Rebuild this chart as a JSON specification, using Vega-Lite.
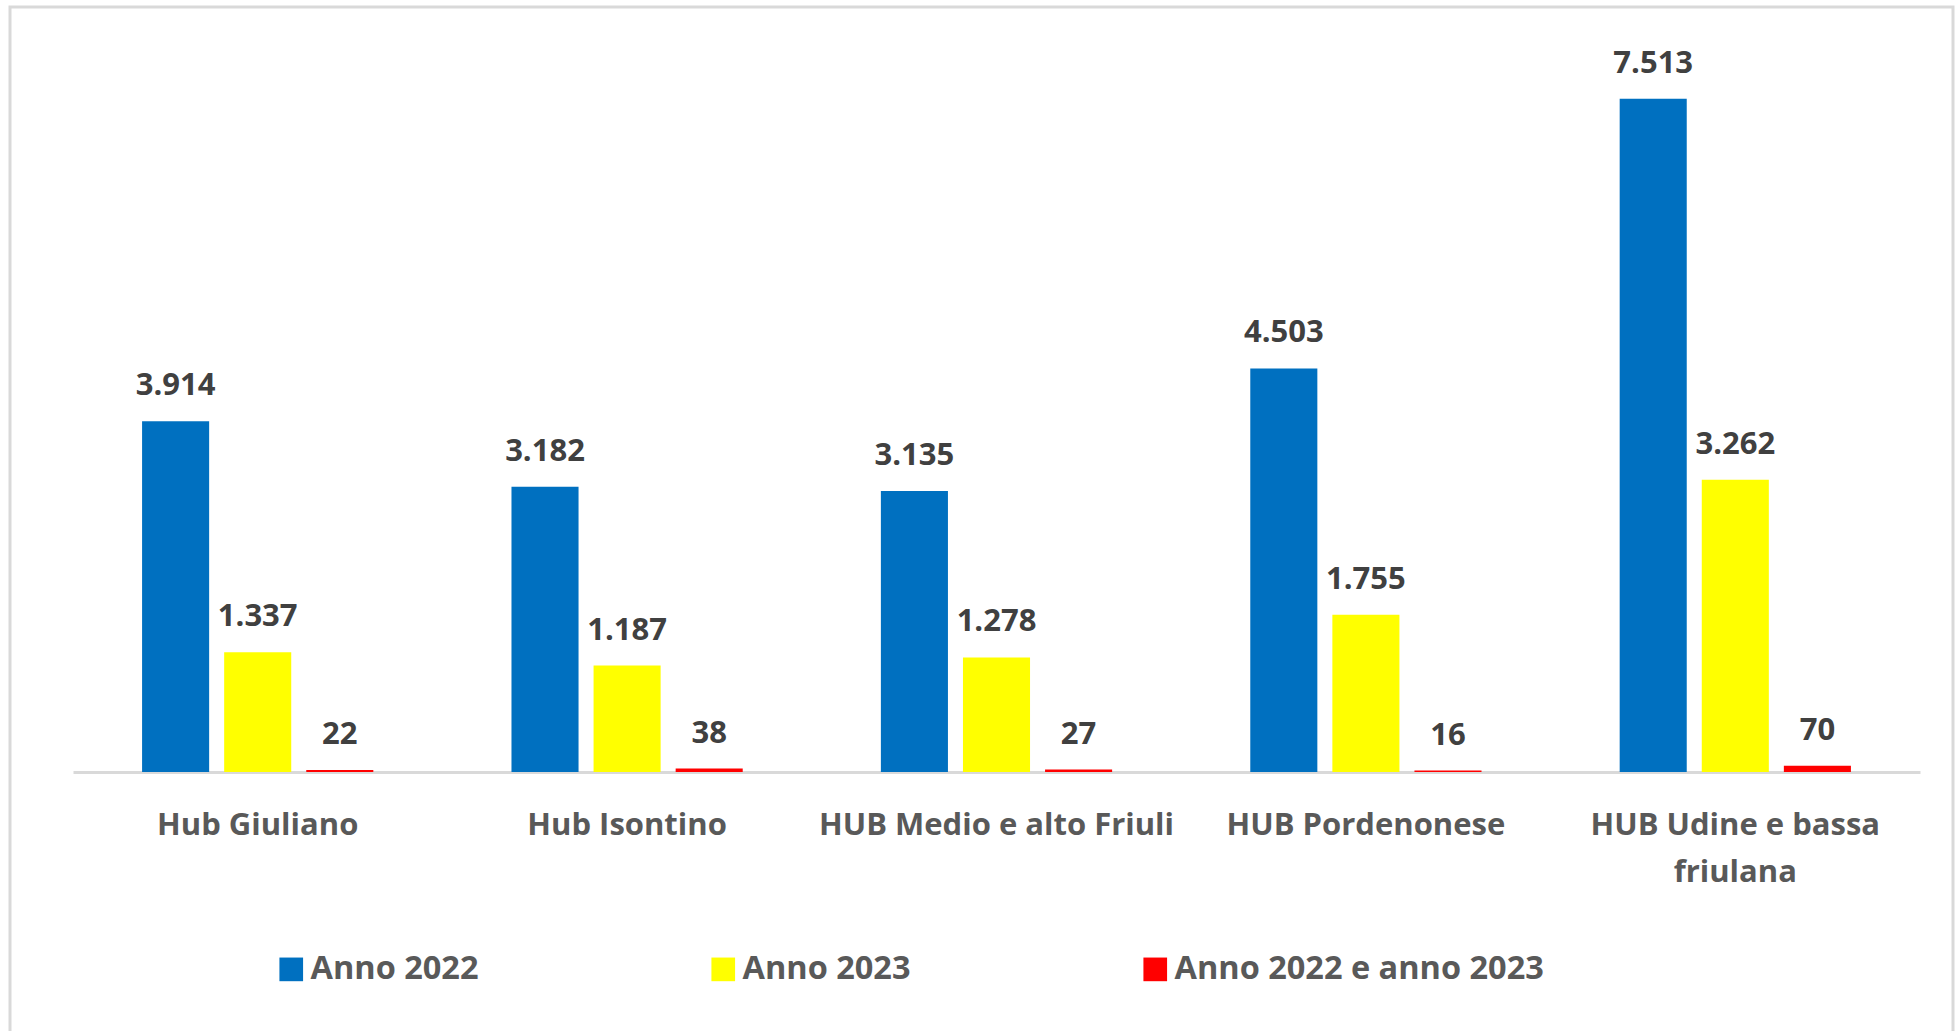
{
  "$schema": "https://vega.github.io/schema/vega-lite/v6.json",
  "width": 1943,
  "height": 1030,
  "autosize": {"type": "none"},
  "padding": {"left": 10, "top": 7, "right": 2, "bottom": 0},
  "config": {
    "locale": {"number": {"decimal": ",", "thousands": ".", "grouping": [3], "currency": ["€", ""]}},
    "view": {"stroke": "#d9d9d9", "strokeWidth": 3},
    "font": "Open Sans"
  },
  "data": {
    "values": [
      {"hub": "Hub Giuliano", "serie": "Anno 2022", "valore": 3914},
      {"hub": "Hub Giuliano", "serie": "Anno 2023", "valore": 1337},
      {"hub": "Hub Giuliano", "serie": "Anno 2022 e anno 2023", "valore": 22},
      {"hub": "Hub Isontino", "serie": "Anno 2022", "valore": 3182},
      {"hub": "Hub Isontino", "serie": "Anno 2023", "valore": 1187},
      {"hub": "Hub Isontino", "serie": "Anno 2022 e anno 2023", "valore": 38},
      {"hub": "HUB Medio e alto Friuli", "serie": "Anno 2022", "valore": 3135},
      {"hub": "HUB Medio e alto Friuli", "serie": "Anno 2023", "valore": 1278},
      {"hub": "HUB Medio e alto Friuli", "serie": "Anno 2022 e anno 2023", "valore": 27},
      {"hub": "HUB Pordenonese", "serie": "Anno 2022", "valore": 4503},
      {"hub": "HUB Pordenonese", "serie": "Anno 2023", "valore": 1755},
      {"hub": "HUB Pordenonese", "serie": "Anno 2022 e anno 2023", "valore": 16},
      {"hub": "HUB Udine e bassa friulana", "serie": "Anno 2022", "valore": 7513},
      {"hub": "HUB Udine e bassa friulana", "serie": "Anno 2023", "valore": 3262},
      {"hub": "HUB Udine e bassa friulana", "serie": "Anno 2022 e anno 2023", "valore": 70}
    ]
  },
  "encoding": {
    "x": {
      "field": "hub",
      "type": "nominal",
      "sort": ["Hub Giuliano", "Hub Isontino", "HUB Medio e alto Friuli", "HUB Pordenonese", "HUB Udine e bassa friulana"],
      "scale": {"range": [63, 1910], "paddingInner": 0.374, "paddingOuter": 0.187},
      "axis": {
        "orient": "bottom",
        "offset": -265,
        "title": null,
        "ticks": false,
        "domainColor": "#d9d9d9",
        "domainWidth": 3,
        "labelFont": "Open Sans",
        "labelFontSize": 31,
        "labelFontWeight": "bold",
        "labelColor": "#595959",
        "labelPadding": 38,
        "labelBaseline": "top",
        "labelLineHeight": 47,
        "labelAngle": 0,
        "labelLimit": 0,
        "labelOverlap": false,
        "labelBound": false,
        "labelExpr": "datum.label == 'HUB Udine e bassa friulana' ? ['HUB Udine e bassa', 'friulana'] : datum.label"
      }
    },
    "xOffset": {
      "field": "serie",
      "type": "nominal",
      "sort": ["Anno 2022", "Anno 2023", "Anno 2022 e anno 2023"],
      "scale": {"paddingInner": 0.183, "paddingOuter": 0}
    },
    "y": {
      "field": "valore",
      "type": "quantitative",
      "scale": {"domain": [0, 8000], "range": [765, 48], "nice": false},
      "axis": null
    }
  },
  "layer": [
    {
      "mark": {"type": "bar"},
      "encoding": {
        "color": {
          "field": "serie",
          "type": "nominal",
          "sort": ["Anno 2022", "Anno 2023", "Anno 2022 e anno 2023"],
          "scale": {"domain": ["Anno 2022", "Anno 2023", "Anno 2022 e anno 2023"], "range": ["#0070C0", "#FFFF00", "#FF0000"]},
          "legend": {
            "orient": "none",
            "legendX": 265,
            "legendY": 946,
            "direction": "horizontal",
            "columns": 3,
            "title": null,
            "symbolType": "square",
            "symbolSize": 560,
            "symbolStrokeWidth": 0,
            "symbolOpacity": 1,
            "labelFont": "Open Sans",
            "labelFontSize": 32.5,
            "labelColor": "#595959",
            "labelFontWeight": "bold",
            "labelOffset": 3,
            "columnPadding": 228,
            "labelLimit": 0
          }
        }
      }
    },
    {
      "mark": {"type": "text", "dy": -26, "baseline": "alphabetic", "fontSize": 31, "fontWeight": "bold", "color": "#404040", "font": "Open Sans"},
      "encoding": {
        "text": {"field": "valore", "type": "quantitative", "format": ",d"}
      }
    }
  ]
}
